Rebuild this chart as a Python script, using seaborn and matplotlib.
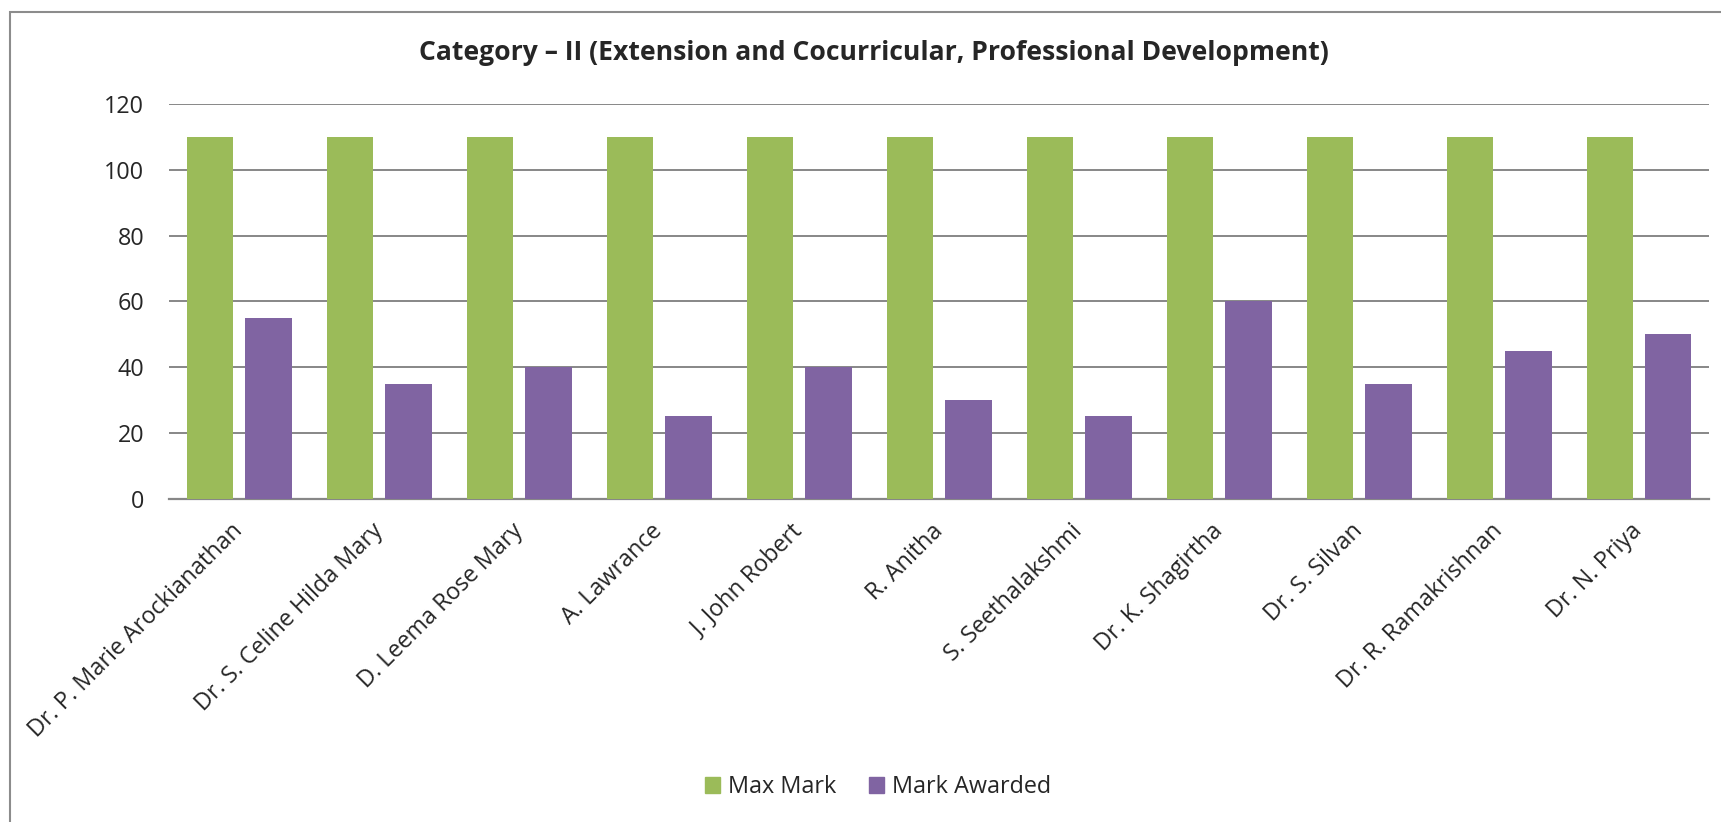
import matplotlib
matplotlib.use("Agg")
import matplotlib.pyplot as plt
import seaborn as sns
import pandas as pd
from matplotlib.patches import Rectangle

# Data
names = [
    "Dr. P. Marie Arockianathan", "Dr. S. Celine Hilda Mary", "D. Leema Rose Mary",
    "A. Lawrance", "J. John Robert", "R. Anitha", "S. Seethalakshmi",
    "Dr. K. Shagirtha", "Dr. S. Silvan", "Dr. R. Ramakrishnan", "Dr. N. Priya",
]
max_mark = [110, 110, 110, 110, 110, 110, 110, 110, 110, 110, 110]
mark_awarded = [55, 35, 40, 25, 40, 30, 25, 60, 35, 45, 50]
series_names = ["Max Mark", "Mark Awarded"]
y_ticks = [0, 20, 40, 60, 80, 100, 120]

title = "Category \u2013 II (Extension and Cocurricular, Professional Development)"
colors = ["#9BBB59", "#8064A2"]
grid_col = "#878787"

df = pd.DataFrame({
    "name": names * 2,
    "mark": max_mark + mark_awarded,
    "series": [series_names[0]] * len(names) + [series_names[1]] * len(names),
})

sns.set_style("white")
plt.rcParams["font.family"] = ["Open Sans", "DejaVu Sans"]

fig = plt.figure(figsize=(17.21, 8.22), dpi=100)
ax = fig.add_axes([169.3 / 1721, 1 - 498.7 / 822, (1709 - 169.3) / 1721, (498.7 - 104) / 822])

sns.barplot(data=df, x="name", y="mark", hue="series", palette=colors,
            saturation=1, width=0.833, gap=0.2, linewidth=0, ax=ax, legend=True)

ax.set_ylim(0, 120)
ax.set_xlim(-0.5, len(names) - 0.5)
ax.set_yticks(y_ticks)
ax.yaxis.grid(True, color=grid_col, linewidth=1.4)
ax.set_axisbelow(True)
for s in ["top", "right", "left"]:
    ax.spines[s].set_visible(False)
ax.spines["bottom"].set_color(grid_col)
ax.spines["bottom"].set_linewidth(1.6)
ax.spines["bottom"].set_zorder(0.5)
ax.set_xlabel("")
ax.set_ylabel("")
ax.tick_params(axis="y", length=0, pad=18, labelsize=16.8)
ax.tick_params(axis="x", length=0, pad=21, labelsize=16.8)
plt.setp(ax.get_xticklabels(), rotation=45, ha="right", va="center", rotation_mode="anchor")

ax.legend_.remove()
handles = [Rectangle((0, 0), 1, 1, color=c) for c in colors]
fig.legend(handles, series_names, loc="center", bbox_to_anchor=(878 / 1721, 1 - 787 / 822),
           ncol=2, frameon=False, fontsize=16.8, handlelength=0.65, handleheight=0.65,
           handletextpad=0.35, columnspacing=1.4)

fig.text(874 / 1721, 1 - 53 / 822, title, ha="center", va="center",
         fontsize=19.1, fontweight="bold")

# chart area border
fig.patches.append(Rectangle((10 / 1721, -0.1), 1.2, 1 - 12 / 822 + 0.1,
                             transform=fig.transFigure, fill=False,
                             edgecolor="#8c8c8c", linewidth=1.5))

fig.savefig("out.png", dpi=100)
